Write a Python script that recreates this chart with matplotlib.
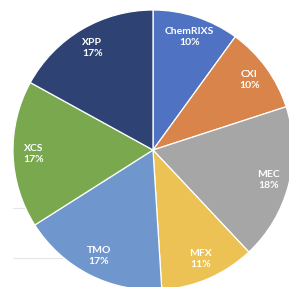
import matplotlib.pyplot as plt
import numpy as np

# data
labels = ['ChemRIXS', 'CXI', 'MEC', 'MFX', 'TMO', 'XCS', 'XPP']
shares = [10, 10, 18, 11, 17, 17, 17]
colors = ['#4F72C2', '#D9844A', '#A6A6A6', '#EBC253', '#7096CE', '#79A84F', '#2E4373']

fig = plt.figure(figsize=(2.89, 2.87), dpi=100)
fig.patch.set_facecolor('white')

# pie centre at (153, 150) px, radius 140 px
ax = fig.add_axes([13 / 289, -3 / 287, 280 / 289, 280 / 287])
ax.set_axis_off()

# faint lines behind the pie
for yl in [-0.414, -0.771]:
    ax.plot([-1.0, 0.0], [yl, yl], color='#E6E6E6', lw=0.8, zorder=0)

wedges, _ = ax.pie(shares, colors=colors, startangle=90, counterclock=False,
                   radius=1.0, wedgeprops=dict(edgecolor='white', linewidth=0.9))

for w, name, val in zip(wedges, labels, shares):
    ang = np.deg2rad((w.theta1 + w.theta2) / 2)
    r = 0.85
    ax.text(r * np.cos(ang), r * np.sin(ang), f'{name}\n{val}%',
            ha='center', va='center', color='white', fontsize=7.5,
            fontweight='bold', family='Lato', linespacing=1.3)

ax.set_xlim(-1, 1)
ax.set_ylim(-1, 1)
ax.set_aspect('equal')

fig.savefig('out.png', dpi=100)
